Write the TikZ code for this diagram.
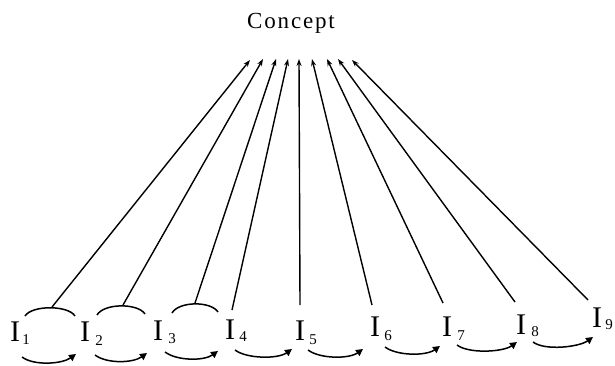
\documentclass[tikz,border=0pt]{standalone}
\usepackage{fontspec}
\setmainfont{Liberation Serif}
\usetikzlibrary{arrows.meta,calc}
\begin{document}
\begin{tikzpicture}[x=1pt,y=-1pt,
  ilabel/.style={inner sep=0pt,font=\fontsize{30}{30}\selectfont},
  sublabel/.style={inner sep=0pt,font=\fontsize{15}{15}\selectfont},
  link/.style={line width=1.4pt,-{Stealth[length=7pt,width=5pt]}},
  group/.style={line width=1.5pt},
  step arrow/.style={line width=1.5pt,-{Triangle[length=7pt,width=7pt]}}]
\useasboundingbox (0,0) rectangle (615,365);

% top concept
\node[inner sep=0pt,font=\fontsize{23}{23}\selectfont\addfontfeatures{LetterSpace=8}] (concept) at (291,23) {Concept};
\foreach \n/\x/\y in {1/250/60,2/263/59,3/276/59,4/288/59,5/299/59,6/312/59,7/327/59,8/338/59,9/352/60}
  \coordinate (t\n) at (\x,\y);

% items
\foreach \n/\x/\y in {1/15/332,2/85/332,3/158/331,4/230/330,5/300/331,6/375/327,7/447/327,8/521/325,9/597/318}
  \node[ilabel] (I\n) at (\x,\y) {I};
\foreach \n/\x/\y in {1/26/340,2/99/341,3/172/339,4/243/337,5/313/340,6/388/336,7/461/336,8/535/332,9/609/325}
  \node[sublabel] (s\n) at (\x,\y) {\n};

% grouping arcs over the first pairs
\coordinate (g1l) at (25,316); \coordinate (g1) at (52,307); \coordinate (g1r) at (75,316);
\coordinate (g2l) at (97,315); \coordinate (g2) at (123,305); \coordinate (g2r) at (145,314);
\coordinate (g3l) at (172,313); \coordinate (g3) at (195,303); \coordinate (g3r) at (218,312);
\draw[group] (g1l) .. controls (32,305) and (68,305) .. (g1r);
\draw[group] (g2l) .. controls (104,303) and (138,303) .. (g2r);
\draw[group] (g3l) .. controls (179,301) and (211,301) .. (g3r);

% start points of the remaining links
\coordinate (b4) at (232,310);
\coordinate (b5) at (300,305);
\coordinate (b6) at (372,305);
\coordinate (b7) at (443,303);
\coordinate (b8) at (515,302);
\coordinate (b9) at (588,300);

\draw[link] (g1) -- (t1);
\draw[link] (g2) -- (t2);
\draw[link] (g3) -- (t3);
\foreach \n in {4,...,9} \draw[link] (b\n) -- (t\n);

% sequence arrows below the items
\foreach \n/\ax/\ay/\bx/\by in {1/22/357/76/354,2/95/355/147/353,3/165/352/218/351,4/235/350/292/349,
  5/308/350/363/349,6/385/347/440/346,7/457/345/517/342,8/533/342/593/337}
{
  \coordinate (p\n) at (\ax,\ay);
  \coordinate (q\n) at (\bx,\by);
  \draw[step arrow] (p\n) .. controls ($(p\n)+(12,9)$) and ($(q\n)+(-14,10)$) .. (q\n);
}
\end{tikzpicture}
\end{document}
